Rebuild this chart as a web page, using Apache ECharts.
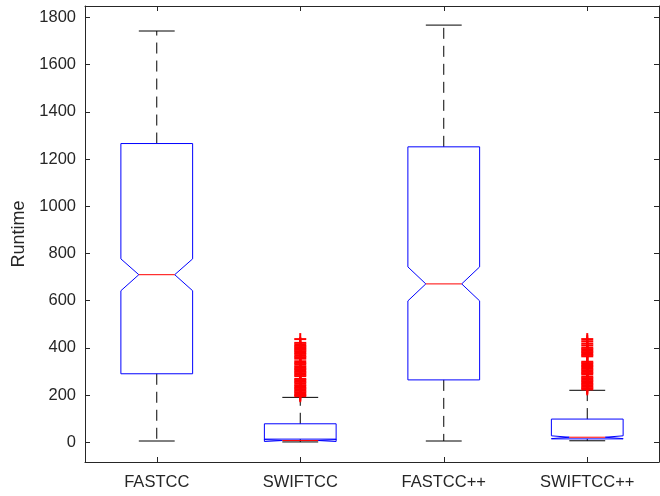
<!DOCTYPE html>
<html>
<head>
<meta charset="utf-8">
<script src="https://cdn.jsdelivr.net/npm/echarts@6/dist/echarts.min.js"></script>
<style>
html,body{margin:0;padding:0;background:#fff;}
#chart{width:660px;height:496px;}
</style>
</head>
<body>
<div id="chart"></div>
<script>
const categories = ['FASTCC', 'SWIFTCC', 'FASTCC++', 'SWIFTCC++'];
const whiskerLow = [5, 1, 5, 6];
const quartile1 = [290, 13, 264, 14];
const notchLow = [642, 3, 599, 15];
const medians = [710, 7, 671, 21];
const notchHigh = [777, 11, 743, 27];
const quartile3 = [1266, 78, 1252, 98];
const whiskerHigh = [1743, 190, 1768, 220];
const swiftccOutliers = [437, 421, 414, 408, 402, 397, 392, 386, 380, 374, 366, 360, 354, 343, 336, 330, 322, 316, 310, 304, 298, 292, 286, 280, 268, 262, 256, 250, 242, 236, 230, 224, 218, 212, 206, 200, 195];
const swiftccppOutliers = [437, 428, 418, 410, 400, 394, 388, 382, 376, 370, 364, 341, 335, 329, 323, 317, 311, 305, 299, 293, 287, 277, 271, 265, 259, 253, 247, 241, 235, 229, 224];
const yTicks = [0, 200, 400, 600, 800, 1000, 1200, 1400, 1600, 1800];

const boxData = categories.map((c, i) => [i, quartile1[i], notchLow[i], medians[i], notchHigh[i], quartile3[i]]);
const whiskerData = categories.map((c, i) => [i, whiskerLow[i], quartile1[i], quartile3[i], whiskerHigh[i]]);
const outlierData = swiftccOutliers.map(v => [1, v]).concat(swiftccppOutliers.map(v => [3, v]));

const FONT = '"Liberation Sans", Arial, Helvetica, sans-serif';
const AX = '#262626';

function renderWhisker(params, api) {
  const i = api.value(0);
  const bw = api.size([1, 0])[0];
  const x = api.coord([i, 0])[0];
  const cw = bw * 0.125;
  const y = v => api.coord([i, v])[1];
  const lw = api.value(1), q1 = api.value(2), q3 = api.value(3), uw = api.value(4);
  const dash = {stroke: '#000', lineWidth: 1, lineDash: [11, 7]};
  const solid = {stroke: '#000', lineWidth: 1};
  return {type: 'group', children: [
    {type: 'line', shape: {x1: x, y1: y(q3), x2: x, y2: y(uw)}, style: dash},
    {type: 'line', shape: {x1: x, y1: y(q1), x2: x, y2: y(lw)}, style: dash},
    {type: 'line', shape: {x1: x - cw, y1: y(uw), x2: x + cw, y2: y(uw)}, style: solid},
    {type: 'line', shape: {x1: x - cw, y1: y(lw), x2: x + cw, y2: y(lw)}, style: solid}
  ]};
}

function renderBox(params, api) {
  const i = api.value(0);
  const bw = api.size([1, 0])[0];
  const x = api.coord([i, 0])[0];
  const hw = bw * 0.25, nw = bw * 0.125;
  const y = v => api.coord([i, v])[1];
  const q1 = api.value(1), nLo = api.value(2), med = api.value(3), nHi = api.value(4), q3 = api.value(5);
  const pts = [[x - hw, y(q1)], [x - hw, y(nLo)], [x - nw, y(med)], [x - hw, y(nHi)], [x - hw, y(q3)],
               [x + hw, y(q3)], [x + hw, y(nHi)], [x + nw, y(med)], [x + hw, y(nLo)], [x + hw, y(q1)]];
  return {type: 'group', children: [
    {type: 'polygon', shape: {points: pts}, style: {fill: 'none', stroke: '#0000ff', lineWidth: 1}},
    {type: 'line', shape: {x1: x - nw, y1: y(med), x2: x + nw, y2: y(med)}, style: {stroke: '#ff0000', lineWidth: 1}}
  ]};
}

function renderOutlier(params, api) {
  const p = api.coord([api.value(0), api.value(1)]);
  const s = 6;
  const st = {stroke: '#ff0000', lineWidth: 2};
  return {type: 'group', children: [
    {type: 'line', shape: {x1: p[0] - s, y1: p[1], x2: p[0] + s, y2: p[1]}, style: st},
    {type: 'line', shape: {x1: p[0], y1: p[1] - s, x2: p[0], y2: p[1] + s}, style: st}
  ]};
}

const chart = echarts.init(document.getElementById('chart'), null, {renderer: 'canvas'});
const xCommon = {
  type: 'category',
  data: categories,
  boundaryGap: true,
  axisLine: {show: true, onZero: false, lineStyle: {color: AX, width: 1}},
  axisTick: {show: true, inside: true, alignWithLabel: true, length: 5, lineStyle: {color: AX}},
  splitLine: {show: false}
};
const yCommon = {
  type: 'value',
  min: -84,
  max: 1849,
  axisLine: {show: true, onZero: false, lineStyle: {color: AX, width: 1}},
  axisTick: {show: true, inside: true, length: 5, customValues: yTicks, lineStyle: {color: AX}},
  splitLine: {show: false}
};
chart.setOption({
  backgroundColor: '#fff',
  animation: false,
  grid: {left: 85, right: 1, top: 6, bottom: 34, containLabel: false},
  xAxis: [
    Object.assign({}, xCommon, {position: 'bottom',
      axisLabel: {show: true, margin: 12, color: AX, fontSize: 16.5, fontFamily: FONT}}),
    Object.assign({}, xCommon, {position: 'top', axisLabel: {show: false}})
  ],
  yAxis: [
    Object.assign({}, yCommon, {position: 'left',
      name: 'Runtime', nameLocation: 'middle', nameGap: 52,
      nameTextStyle: {color: AX, fontSize: 18, fontFamily: FONT},
      axisLabel: {show: true, margin: 9, color: AX, fontSize: 16.5, fontFamily: FONT, customValues: yTicks,
        formatter: v => String(v)}}),
    Object.assign({}, yCommon, {position: 'right', axisLabel: {show: false}})
  ],
  series: [
    {type: 'custom', name: 'whiskers', xAxisIndex: 0, yAxisIndex: 0, renderItem: renderWhisker,
     encode: {x: 0, y: [1, 2, 3, 4]}, data: whiskerData, silent: true},
    {type: 'custom', name: 'outliers', xAxisIndex: 0, yAxisIndex: 0, renderItem: renderOutlier,
     encode: {x: 0, y: 1}, data: outlierData, silent: true},
    {type: 'custom', name: 'boxes', xAxisIndex: 0, yAxisIndex: 0, renderItem: renderBox,
     encode: {x: 0, y: [1, 2, 3, 4, 5]}, data: boxData, silent: true}
  ]
});
</script>
</body>
</html>
